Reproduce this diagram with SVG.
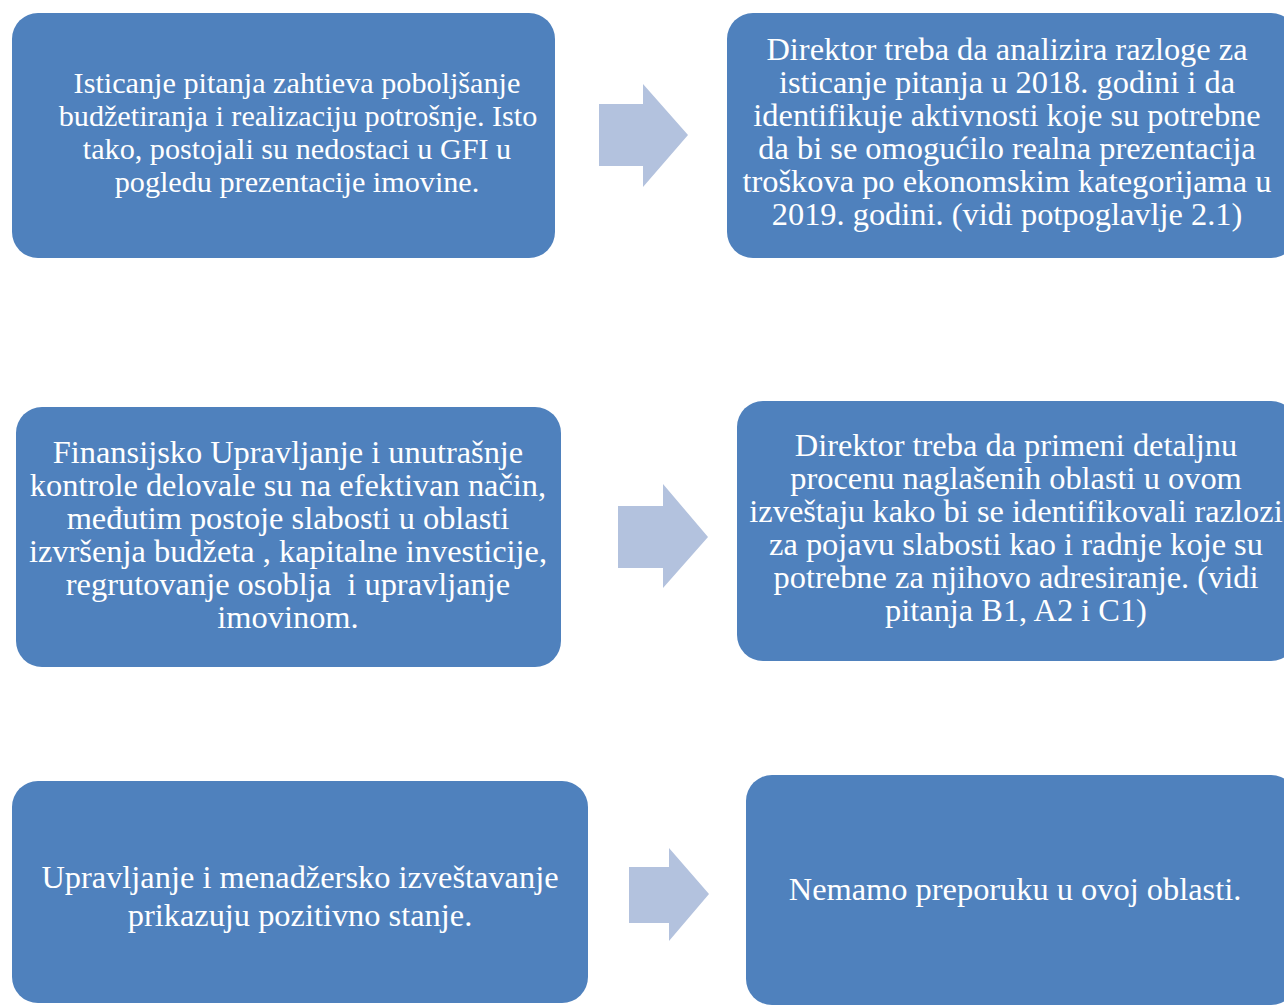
<svg xmlns="http://www.w3.org/2000/svg" width="1284" height="1006" viewBox="0 0 1284 1006">
<style>
.box{fill:#4F81BD;}
.arr{fill:#B3C2DE;}
text{font-family:"Liberation Serif","DejaVu Serif",serif;font-size:32.4px;fill:#FFFFFF;text-anchor:middle;}
.s{font-size:30.2px;}
</style>
<rect width="1284" height="1006" fill="#FFFFFF"/>
<g id="n1">
<rect class="box" x="12" y="13" width="543" height="245" rx="26"/>
<text class="s" x="297" y="93">Isticanje pitanja zahtieva poboljšanje</text>
<text class="s" x="298" y="126">budžetiranja i realizaciju potrošnje. Isto</text>
<text class="s" x="297" y="159">tako, postojali su nedostaci u GFI u</text>
<text class="s" x="297" y="192">pogledu prezentacije imovine.</text>
</g>
<g id="n2">
<rect class="box" x="727" y="13" width="570" height="245" rx="26"/>
<text x="1007" y="60">Direktor treba da analizira razloge za</text>
<text x="1007" y="93">isticanje pitanja u 2018. godini i da</text>
<text x="1007" y="126">identifikuje aktivnosti koje su potrebne</text>
<text x="1007" y="159">da bi se omogućilo realna prezentacija</text>
<text x="1007" y="192">troškova po ekonomskim kategorijama u</text>
<text x="1007" y="225">2019. godini. (vidi potpoglavlje 2.1)</text>
</g>
<g id="n3">
<rect class="box" x="16" y="407" width="545" height="260" rx="26"/>
<text x="288" y="463">Finansijsko Upravljanje i unutrašnje</text>
<text x="288" y="496">kontrole delovale su na efektivan način,</text>
<text x="288" y="529">međutim postoje slabosti u oblasti</text>
<text x="288" y="562">izvršenja budžeta , kapitalne investicije,</text>
<text x="288" y="595" xml:space="preserve">regrutovanje osoblja  i upravljanje</text>
<text x="288" y="628">imovinom.</text>
</g>
<g id="n4">
<rect class="box" x="737" y="401" width="560" height="260" rx="26"/>
<text x="1016" y="456">Direktor treba da primeni detaljnu</text>
<text x="1016" y="489">procenu naglašenih oblasti u ovom</text>
<text x="1016" y="522">izveštaju kako bi se identifikovali razlozi</text>
<text x="1016" y="555">za pojavu slabosti kao i radnje koje su</text>
<text x="1016" y="588">potrebne za njihovo adresiranje. (vidi</text>
<text x="1016" y="621">pitanja B1, A2 i C1)</text>
</g>
<g id="n5">
<rect class="box" x="12" y="781" width="576" height="222" rx="26"/>
<text x="300" y="888">Upravljanje i menadžersko izveštavanje</text>
<text x="300" y="926">prikazuju pozitivno stanje.</text>
</g>
<g id="n6">
<rect class="box" x="746" y="775" width="551" height="230" rx="26"/>
<text x="1015" y="900">Nemamo preporuku u ovoj oblasti.</text>
</g>
<g id="connectors">
<polygon class="arr" points="599,104 643,104 643,84 688,135 643,187 643,166 599,166"/>
<polygon class="arr" points="618,506 663,506 663,484 708,537 663,588 663,568 618,568"/>
<polygon class="arr" points="629,867 669,867 669,848 709,894 669,941 669,923 629,923"/>
</g>
</svg>
